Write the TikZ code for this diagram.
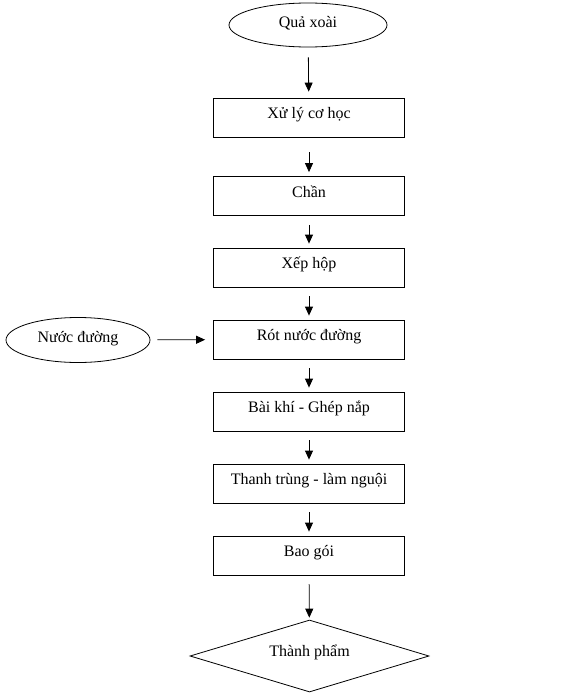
\documentclass[tikz,border=0pt]{standalone}
\usepackage{fontspec}
\setmainfont{Liberation Serif}
\usetikzlibrary{shapes.geometric,arrows.meta}

\tikzset{
  stepbox/.style={draw, minimum width=191pt, minimum height=39pt, inner sep=0pt, text depth=9pt},
  oval/.style={draw, ellipse, inner sep=0pt, text depth=7pt},
  flow/.style={->, >={Triangle[length=9pt,width=8pt]}, shorten <=9pt, shorten >=4pt},
}

\begin{document}
\begin{tikzpicture}[x=1pt, y=-1pt, line width=0.8pt, font=\fontsize{16pt}{19pt}\selectfont]
\useasboundingbox (0,0) rectangle (579,696);

\node[oval, minimum width=158pt, minimum height=44pt] (xoai) at (308,25) {Quả xoài};
\node[stepbox] (xuly) at (309,117.5) {Xử lý cơ học};
\node[stepbox] (chan) at (309,196) {Chần};
\node[stepbox] (xephop) at (309,267.5) {Xếp hộp};
\node[stepbox] (rot) at (309,339.5) {Rót nước đường};
\node[oval, minimum width=144pt, minimum height=45pt] (duong) at (78,340) {Nước đường};
\node[stepbox] (baikhi) at (309,411.5) {Bài khí - Ghép nắp};
\node[stepbox] (thanhtrung) at (309,483.5) {Thanh trùng - làm nguội};
\node[stepbox] (baogoi) at (309,555.5) {Bao gói};
\node[draw, diamond, aspect=3.3, minimum width=239pt, minimum height=72pt, inner sep=0pt, text depth=10pt] (thanhpham) at (309.5,656) {Thành phẩm};

\draw (xoai) edge[flow, shorten <=10pt, shorten >=6pt] (xuly);
\draw (xuly) edge[flow, shorten <=15pt] (chan);
\draw (chan) edge[flow] (xephop);
\draw (xephop) edge[flow] (rot);
\draw (duong) edge[flow, shorten <=7pt, shorten >=8pt] (rot);
\draw (rot) edge[flow] (baikhi);
\draw (baikhi) edge[flow] (thanhtrung);
\draw (thanhtrung) edge[flow] (baogoi);
\draw (baogoi) edge[flow, shorten >=2pt] (thanhpham);
\end{tikzpicture}
\end{document}
